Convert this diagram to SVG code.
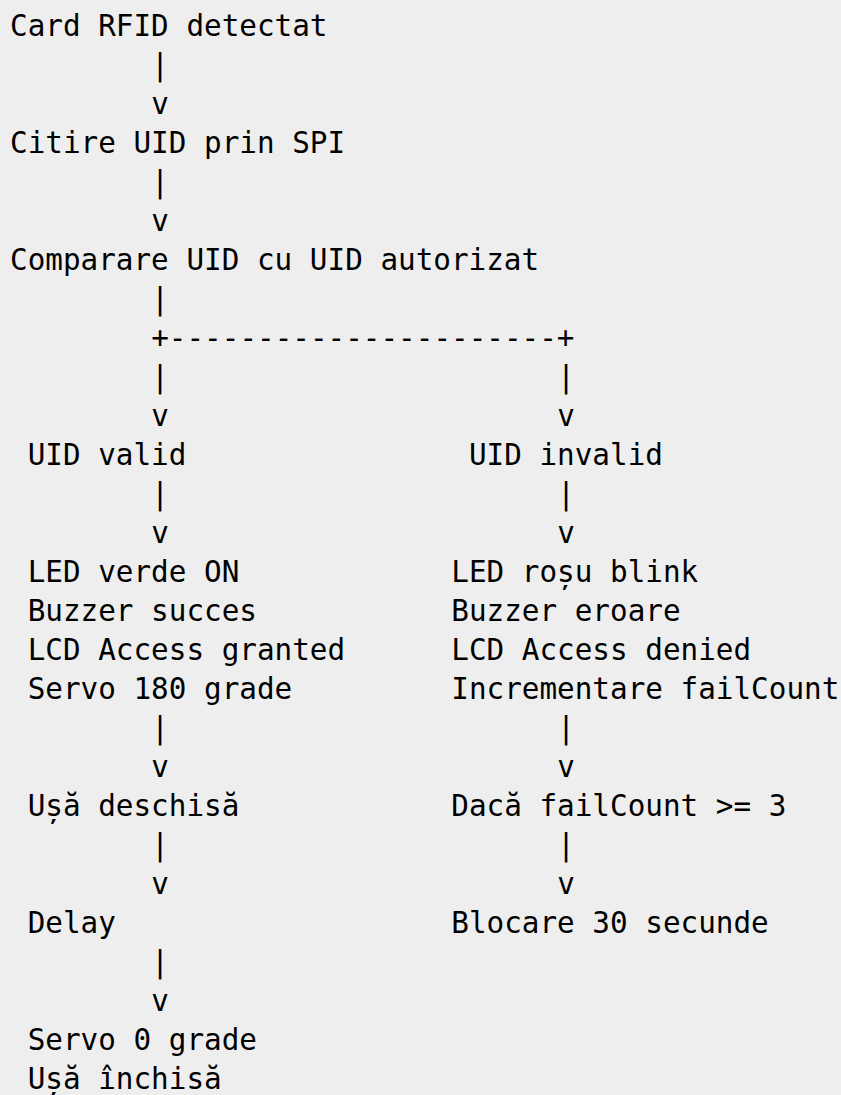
<svg xmlns="http://www.w3.org/2000/svg" width="841" height="1095" viewBox="0 0 841 1095">
<style>
text{font-family:"DejaVu Sans Mono","Liberation Mono",monospace;font-size:29.3px;fill:#000;white-space:pre}
</style>
<rect x="0" y="0" width="841" height="1095" fill="#eeeeee"/>
<g id="connectors">
<text x="151.2" y="75">|</text>
<text x="151.2" y="114">v</text>
<text x="151.2" y="192">|</text>
<text x="151.2" y="231">v</text>
<text x="151.2" y="309">|</text>
<text x="151.2" y="348">+----------------------+</text>
<text x="151.2" y="387">|</text>
<text x="557.15" y="387">|</text>
<text x="151.2" y="426">v</text>
<text x="557.15" y="426">v</text>
<text x="151.2" y="504">|</text>
<text x="557.15" y="504">|</text>
<text x="151.2" y="543">v</text>
<text x="557.15" y="543">v</text>
<text x="151.2" y="738">|</text>
<text x="557.15" y="738">|</text>
<text x="151.2" y="777">v</text>
<text x="557.15" y="777">v</text>
<text x="151.2" y="855">|</text>
<text x="557.15" y="855">|</text>
<text x="151.2" y="894">v</text>
<text x="557.15" y="894">v</text>
<text x="151.2" y="972">|</text>
<text x="151.2" y="1011">v</text>
</g>
<g id="card-detectat"><text x="10" y="36">Card RFID detectat</text></g>
<g id="citire-uid"><text x="10" y="153">Citire UID prin SPI</text></g>
<g id="comparare-uid"><text x="10" y="270">Comparare UID cu UID autorizat</text></g>
<g id="uid-valid"><text x="27.65" y="465">UID valid</text></g>
<g id="uid-invalid"><text x="468.9" y="465">UID invalid</text></g>
<g id="access-granted">
<text x="27.65" y="582">LED verde ON</text>
<text x="27.65" y="621">Buzzer succes</text>
<text x="27.65" y="660">LCD Access granted</text>
<text x="27.65" y="699">Servo 180 grade</text>
</g>
<g id="access-denied">
<text x="451.25" y="582">LED roșu blink</text>
<text x="451.25" y="621">Buzzer eroare</text>
<text x="451.25" y="660">LCD Access denied</text>
<text x="451.25" y="699">Incrementare failCount</text>
</g>
<g id="usa-deschisa"><text x="27.65" y="816">Ușă deschisă</text></g>
<g id="daca-failcount"><text x="451.25" y="816">Dacă failCount &gt;= 3</text></g>
<g id="delay"><text x="27.65" y="933">Delay</text></g>
<g id="blocare"><text x="451.25" y="933">Blocare 30 secunde</text></g>
<g id="usa-inchisa">
<text x="27.65" y="1050">Servo 0 grade</text>
<text x="27.65" y="1089">Ușă închisă</text>
</g>
</svg>
